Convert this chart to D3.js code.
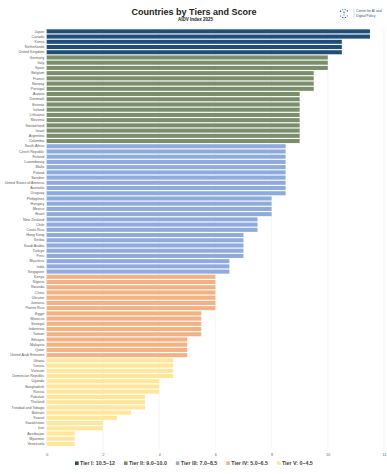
<!DOCTYPE html>
<html>
<head>
<meta charset="utf-8">
<script src="https://cdn.jsdelivr.net/npm/d3@7"></script>
<style>
  body { margin: 0; background: #fff; }
  text { font-family: "Liberation Sans", Arial, sans-serif; }
</style>
</head>
<body>
<svg id="chart" width="387" height="474"></svg>
<script>
// data
const countries = [
  "Japan", "Canada", "Korea", "Netherlands", "United Kingdom",
  "Germany", "Italy", "Spain", "Belgium", "France", "Norway", "Portugal",
  "Austria", "Denmark", "Estonia", "Ireland", "Lithuania", "Slovenia", "Switzerland", "Israel", "Argentina", "Colombia",
  "South Africa", "Czech Republic", "Finland", "Luxembourg", "Malta", "Poland", "Sweden", "United States of America", "Australia", "Uruguay",
  "Philippines", "Hungary", "Mexico", "Brazil", "New Zealand", "Chile", "Costa Rica",
  "Hong Kong", "Serbia", "Saudi Arabia", "Türkiye", "Peru", "Mauritius", "India", "Singapore",
  "Kenya", "Nigeria", "Rwanda", "China", "Ukraine", "Jamaica", "Puerto Rico",
  "Egypt", "Morocco", "Senegal", "Indonesia", "Taiwan", "Ethiopia", "Malaysia", "Qatar", "United Arab Emirates",
  "Ghana", "Tunisia", "Vietnam", "Dominican Republic", "Uganda", "Bangladesh", "Russia",
  "Pakistan", "Thailand", "Trinidad and Tobago", "Bahrain", "Kuwait", "Kazakhstan", "Iran",
  "Azerbaijan", "Myanmar", "Venezuela"
];
const scores = [
  11.5, 11.5, 10.5, 10.5, 10.5,
  10, 10, 10, 9.5, 9.5, 9.5, 9.5,
  9, 9, 9, 9, 9, 9, 9, 9, 9, 9,
  8.5, 8.5, 8.5, 8.5, 8.5, 8.5, 8.5, 8.5, 8.5, 8.5,
  8, 8, 8, 8, 7.5, 7.5, 7.5,
  7, 7, 7, 7, 7, 6.5, 6.5, 6.5,
  6, 6, 6, 6, 6, 6, 6,
  5.5, 5.5, 5.5, 5.5, 5.5, 5, 5, 5, 5,
  4.5, 4.5, 4.5, 4.5, 4, 4, 4,
  3.5, 3.5, 3.5, 3, 2.5, 2, 2,
  1, 1, 1
];
// tier of each country (0 = Tier I ... 4 = Tier V)
const tierOfCountry = [
  0, 0, 0, 0, 0,
  1, 1, 1, 1, 1, 1, 1,
  1, 1, 1, 1, 1, 1, 1, 1, 1, 1,
  2, 2, 2, 2, 2, 2, 2, 2, 2, 2,
  2, 2, 2, 2, 2, 2, 2,
  2, 2, 2, 2, 2, 2, 2, 2,
  3, 3, 3, 3, 3, 3, 3,
  3, 3, 3, 3, 3, 3, 3, 3, 3,
  4, 4, 4, 4, 4, 4, 4,
  4, 4, 4, 4, 4, 4, 4,
  4, 4, 4
];
const tiers = ["Tier I: 10.5–12", "Tier II: 9.0–10.0", "Tier III: 7.0–8.5", "Tier IV: 5.0–6.5", "Tier V: 0–4.5"];
const tierColors = ["#1f4e79", "#7b8e6b", "#8faadc", "#f4b183", "#ffe699"];
const xTicks = [0, 2, 4, 6, 8, 10, 12];

const svg = d3.select("#chart");
const margin = { left: 46.7, top: 28.8, bottom: 446.5 };

const x = d3.scaleLinear().domain([0, 12]).range([margin.left, 384]);
const y = d3.scaleBand().domain(countries).range([margin.top, margin.bottom]).paddingInner(0.22).paddingOuter(0.1);

// gridlines
svg.append("g")
  .selectAll("line")
  .data(xTicks)
  .join("line")
  .attr("x1", d => x(d)).attr("x2", d => x(d))
  .attr("y1", margin.top).attr("y2", margin.bottom + 2)
  .attr("stroke", "#ececec")
  .attr("stroke-width", 0.6);

// bars
svg.append("g")
  .selectAll("rect")
  .data(countries)
  .join("rect")
  .attr("x", x(0))
  .attr("y", d => y(d))
  .attr("height", y.bandwidth())
  .attr("width", (d, i) => x(scores[i]) - x(0))
  .attr("fill", (d, i) => tierColors[tierOfCountry[i]]);

// country labels
const yAxis = d3.axisLeft(y).tickSize(0).tickPadding(2.5);
svg.append("g")
  .attr("transform", `translate(${x(0)},0)`)
  .call(yAxis)
  .call(g => g.select(".domain").remove())
  .selectAll("text")
  .attr("font-size", 3.6)
  .attr("fill", "#595959");

// x axis
const xAxis = d3.axisBottom(x).tickValues(xTicks).tickSize(0).tickPadding(3);
svg.append("g")
  .attr("transform", `translate(0,${margin.bottom + 4})`)
  .call(xAxis)
  .call(g => g.select(".domain").remove())
  .selectAll("text")
  .attr("font-size", 3.6)
  .attr("fill", "#595959");

// title
svg.append("text")
  .attr("x", 194).attr("y", 15.2)
  .attr("text-anchor", "middle")
  .attr("font-size", 9)
  .attr("font-weight", "bold")
  .attr("fill", "#222")
  .text("Countries by Tiers and Score");
svg.append("text")
  .attr("x", 195.5).attr("y", 20.8)
  .attr("text-anchor", "middle")
  .attr("font-size", 4.5)
  .attr("font-weight", "bold")
  .attr("fill", "#222")
  .text("AIDV Index 2025");

// logo
const logo = svg.append("g").attr("transform", "translate(344,13.5)");
const arcGen = d3.arc().innerRadius(3.6).outerRadius(4.8);
logo.selectAll("path")
  .data(d3.range(10))
  .join("path")
  .attr("d", i => arcGen({ startAngle: i * Math.PI / 5 + 0.15, endAngle: i * Math.PI / 5 + 0.45 }))
  .attr("fill", i => i % 3 === 0 ? "#5b9bd5" : "#1f4e79")
  .attr("opacity", i => (i === 2 || i === 7) ? 0 : 1);
logo.append("rect").attr("x", -0.5).attr("y", -2).attr("width", 1).attr("height", 1.6).attr("fill", "#1f4e79");
logo.append("rect").attr("x", -0.5).attr("y", 0.6).attr("width", 1).attr("height", 1.6).attr("fill", "#5b9bd5");
svg.append("line")
  .attr("x1", 354).attr("x2", 354).attr("y1", 8.5).attr("y2", 18.5)
  .attr("stroke", "#9aaabb").attr("stroke-width", 0.4);
svg.append("text").attr("x", 356).attr("y", 12.3)
  .attr("font-size", 3.4).attr("fill", "#2f5478").text("Center for AI and");
svg.append("text").attr("x", 356).attr("y", 16.6)
  .attr("font-size", 3.4).attr("fill", "#2f5478").text("Digital Policy");

// legend
const legend = svg.append("g").attr("transform", "translate(75,465)");
let lx = 0;
tiers.forEach((t, i) => {
  const g = legend.append("g").attr("transform", `translate(${lx},0)`);
  g.append("rect").attr("x", 0).attr("y", -3.6).attr("width", 3.6).attr("height", 3.6).attr("fill", tierColors[i]);
  const txt = g.append("text").attr("x", 5).attr("y", 0)
    .attr("font-size", 5.3).attr("font-weight", "bold").attr("fill", "#404040").text(t);
  lx += 5 + txt.node().getComputedTextLength() + 9;
});
</script>
</body>
</html>
